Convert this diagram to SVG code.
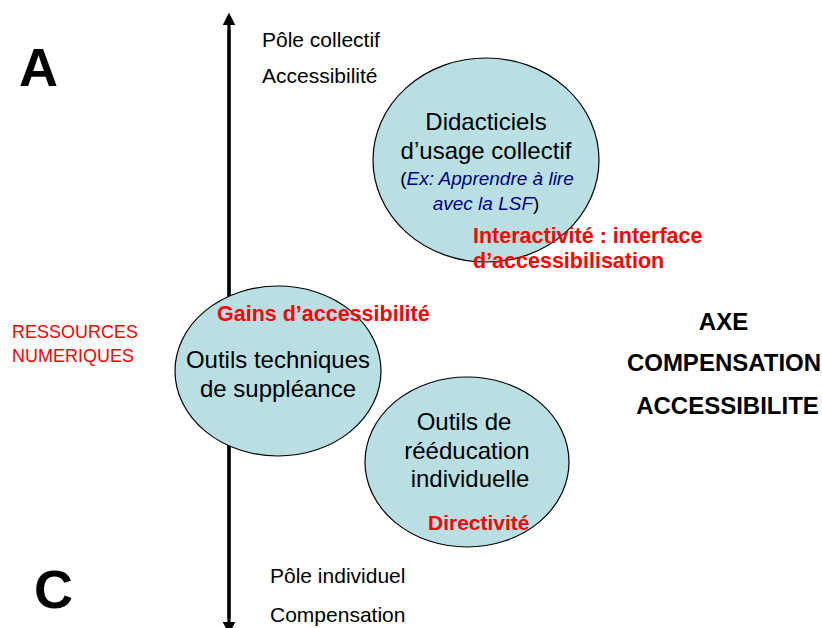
<svg xmlns="http://www.w3.org/2000/svg" width="822" height="628" viewBox="0 0 822 628">
<style>
text{font-family:"Liberation Sans",Arial,sans-serif;}
.bub{fill:#b9dfe2;stroke:#000;stroke-width:1.2;}
.n{font-size:24px;fill:#000;text-anchor:middle;}
.r{font-size:21.5px;font-weight:bold;fill:#ff0000;}
.p{font-size:21px;fill:#000;}
.big{font-size:54px;font-weight:bold;fill:#000;}
.ax{font-size:24px;font-weight:bold;fill:#000;text-anchor:middle;}
.ex{font-size:19px;fill:#000;text-anchor:middle;}
.it{font-style:italic;fill:#000080;}
</style>
<defs>
<marker id="ah" markerWidth="4" markerHeight="4" refX="2" refY="2" orient="auto" markerUnits="strokeWidth">
<path d="M0,0 L4,2 L0,4 Z" fill="#000"/>
</marker>
</defs>
<g id="connectors">
<line x1="229" y1="618" x2="229" y2="19" stroke="#000" stroke-width="3.2" marker-end="url(#ah)"/>
<line x1="229" y1="30" x2="229" y2="628" stroke="#000" stroke-width="3.2" marker-end="url(#ah)"/>
</g>
<g id="labelA"><text class="big" x="19" y="86">A</text></g>
<g id="labelC"><text class="big" x="34" y="608">C</text></g>
<g id="poleCollectif">
<text class="p" x="262" y="47">Pôle collectif</text>
<text class="p" x="262" y="83">Accessibilité</text>
</g>
<g id="poleIndividuel">
<text class="p" x="270" y="583">Pôle individuel</text>
<text class="p" x="270" y="622">Compensation</text>
</g>
<g id="ressources">
<text x="12" y="338" font-size="18" fill="#ff0000">RESSOURCES</text>
<text x="12" y="362" font-size="18" fill="#ff0000">NUMERIQUES</text>
</g>
<g id="didacticiels">
<ellipse class="bub" cx="486" cy="160" rx="113" ry="102"/>
<text class="n" x="486" y="130">Didacticiels</text>
<text class="n" x="486" y="159">d’usage collectif</text>
<text class="ex" x="487" y="185">(<tspan class="it">Ex: Apprendre à lire</tspan></text>
<text class="ex" x="486" y="210"><tspan class="it">avec la LSF</tspan>)</text>
<text class="r" x="473" y="243">Interactivité : interface</text>
<text class="r" x="473" y="268">d’accessibilisation</text>
</g>
<g id="outilsTechniques">
<ellipse class="bub" cx="278" cy="371" rx="103" ry="85"/>
<text class="r" x="217" y="321">Gains d’accessibilité</text>
<text class="n" x="278" y="368">Outils techniques</text>
<text class="n" x="278" y="397">de suppléance</text>
</g>
<g id="outilsReeducation">
<ellipse class="bub" cx="467" cy="462" rx="102" ry="85"/>
<text class="n" x="464" y="430">Outils de</text>
<text class="n" x="467" y="459">rééducation</text>
<text class="n" x="470" y="487">individuelle</text>
<text class="r" x="428" y="530" style="font-size:21px">Directivité</text>
</g>
<g id="axe">
<text class="ax" x="723.5" y="330">AXE</text>
<text class="ax" x="724" y="371">COMPENSATION</text>
<text class="ax" x="727.5" y="414">ACCESSIBILITE</text>
</g>
</svg>
